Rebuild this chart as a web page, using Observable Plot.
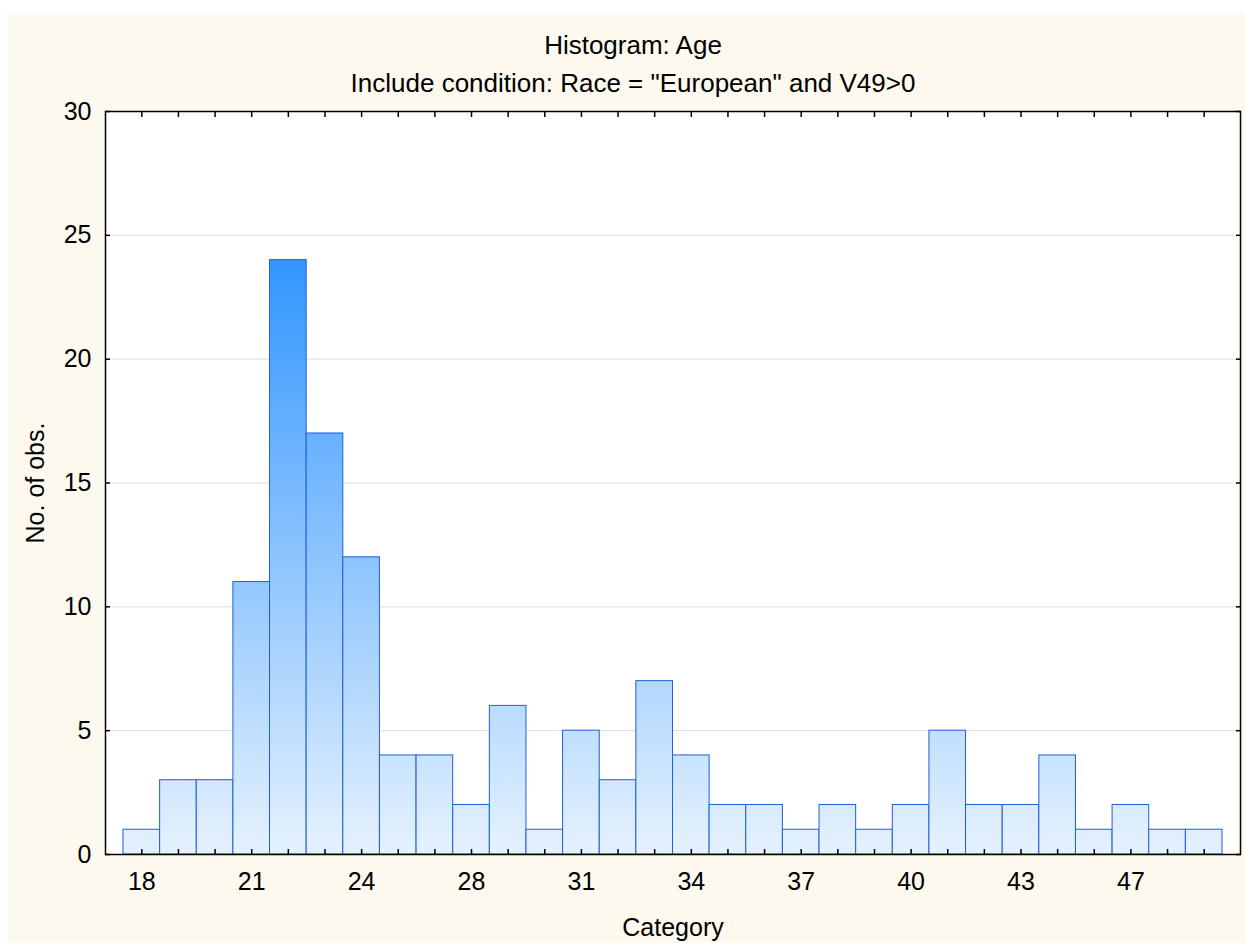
<!DOCTYPE html>
<html>
<head>
<meta charset="utf-8">
<script src="https://cdn.jsdelivr.net/npm/d3@7"></script>
<script src="https://cdn.jsdelivr.net/npm/@observablehq/plot@0.6"></script>
<style>
  html, body { margin: 0; padding: 0; background: #ffffff; }
  body { width: 1245px; height: 943px; position: relative; overflow: hidden; font-family: "Liberation Sans", Arial, sans-serif; }
  #panel { position: absolute; left: 8px; top: 13px; width: 1237px; height: 930px; background: #fdf9ee; }
  .ttl { position: absolute; left: 0; width: 1250px; text-align: center; font-size: 26px; line-height: 30px; color: #000; white-space: nowrap; }
  #chart { position: absolute; left: 0; top: 87px; }
</style>
</head>
<body>
<div id="panel">
  <div class="ttl" id="t1" style="top:17px"></div>
  <div class="ttl" id="t2" style="top:55px"></div>
  <div id="chart"></div>
</div>
<script>
const titleText = "Histogram: Age";
const subtitleText = 'Include condition: Race = "European" and V49>0';
const xLabel = "Category";
const yLabel = "No. of obs.";
const counts = [1, 3, 3, 11, 24, 17, 12, 4, 4, 2, 6, 1, 5, 3, 7, 4, 2, 2, 1, 2, 1, 2, 5, 2, 2, 4, 1, 2, 1, 1];
const binLabels = ["18", "", "", "21", "", "", "24", "", "", "28", "", "", "31", "", "", "34", "", "", "37", "", "", "40", "", "", "43", "", "", "47", "", ""];
const yTicks = [0, 5, 10, 15, 20, 25, 30];
const gridTicks = [5, 10, 15, 20, 25];

document.getElementById("t1").textContent = titleText;
document.getElementById("t2").textContent = subtitleText;

const bins = counts.map((c, i) => ({i, c}));
const idx = bins.map(d => d.i);
const labelIdx = idx.filter(i => binLabels[i] !== "");

const plot = Plot.plot({
  width: 1237,
  height: 843,
  marginLeft: 97,
  marginRight: 5,
  marginTop: 11,
  marginBottom: 89,
  style: {fontFamily: "Liberation Sans, Arial, sans-serif", fontSize: "25px", color: "#000", background: "transparent", overflow: "visible"},
  x: {type: "band", domain: idx, padding: 0, round: false, insetLeft: 18, insetRight: 18},
  y: {domain: [0, 30]},
  marks: [
    Plot.frame({fill: "#ffffff", stroke: null}),
    Plot.gridY(gridTicks, {stroke: "#dcdcdc", strokeOpacity: 1, strokeWidth: 1}),
    Plot.barY(bins, {x: "i", y: "c", fill: "url(#barGrad)", stroke: "#1f5fd8", strokeWidth: 1}),
    Plot.axisX(idx, {anchor: "bottom", tickSize: -5, tickFormat: () => "", strokeWidth: 1.5, label: null}),
    Plot.axisX(idx, {anchor: "top", tickSize: -5, tickFormat: () => "", strokeWidth: 1.5, label: null}),
    Plot.axisX(labelIdx, {anchor: "bottom", tickSize: 0, tickPadding: 18, tickFormat: i => binLabels[i], label: null, fontSize: 25}),
    Plot.axisY(yTicks, {anchor: "left", tickSize: -5, tickFormat: () => "", strokeWidth: 1.5, label: null}),
    Plot.axisY(yTicks, {anchor: "right", tickSize: -5, tickFormat: () => "", strokeWidth: 1.5, label: null}),
    Plot.axisY(yTicks, {anchor: "left", tickSize: 0, tickPadding: 14, label: null, fontSize: 25}),
    Plot.frame({stroke: "#000", strokeWidth: 1.5}),
    Plot.text([yLabel], {frameAnchor: "left", textAnchor: "middle", dx: -70, rotate: -90, fontSize: 25, fill: "#000"}),
    Plot.text([xLabel], {frameAnchor: "bottom", textAnchor: "middle", dy: 73, lineAnchor: "middle", fontSize: 25, fill: "#000"})
  ]
});

// vertical gradient tied to the y scale (light at 0, strong blue at the tallest bar)
const ys = plot.scale("y");
const y0 = ys.apply(0);
const y1 = ys.apply(d3.max(counts));
const ns = "http://www.w3.org/2000/svg";
const defs = document.createElementNS(ns, "defs");
const lg = document.createElementNS(ns, "linearGradient");
lg.setAttribute("id", "barGrad");
lg.setAttribute("gradientUnits", "userSpaceOnUse");
lg.setAttribute("x1", 0); lg.setAttribute("x2", 0);
lg.setAttribute("y1", y0); lg.setAttribute("y2", y1);
[["0", "#e6f2fe"], ["1", "#3296fe"]].forEach(([o, c]) => {
  const s = document.createElementNS(ns, "stop");
  s.setAttribute("offset", o);
  s.setAttribute("stop-color", c);
  lg.appendChild(s);
});
defs.appendChild(lg);
plot.insertBefore(defs, plot.firstChild);
document.getElementById("chart").appendChild(plot);
</script>
</body>
</html>
